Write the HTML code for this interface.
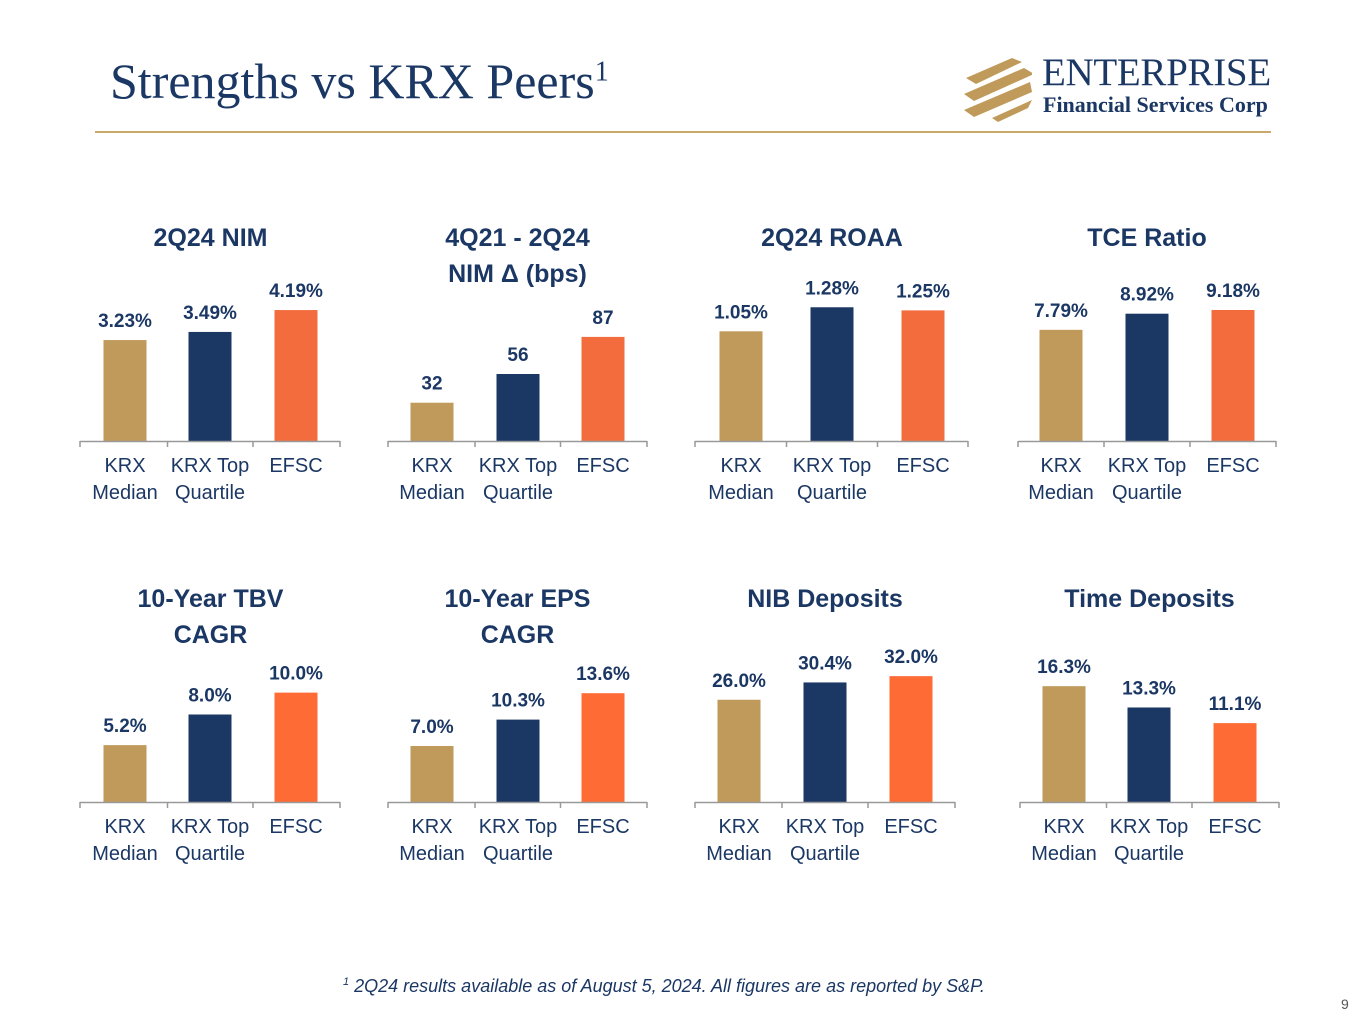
<!DOCTYPE html>
<html><head><meta charset="utf-8"><style>
body{margin:0;background:#fff;}
#root{position:relative;width:1365px;height:1024px;overflow:hidden;font-family:"Liberation Sans",sans-serif;}
</style></head><body>
<div id="root">
<div style="position:absolute;left:110px;top:52px;font-family:'Liberation Serif',serif;font-size:50px;color:#1b3764;">Strengths vs KRX Peers<sup style="font-size:28px;">1</sup></div>
<div style="position:absolute;left:95px;top:131px;width:1176px;height:2px;background:#c8a96a;"></div>
<div style="position:absolute;left:962px;top:56px;width:312px;height:66px;">
<svg width="70" height="66" style="position:absolute;left:0;top:0">
<polygon points="4,22 50,2 60,6 14,28" fill="#c09a5b"/>
<polygon points="2,38 62,12 72,18 12,45" fill="#c09a5b"/>
<polygon points="2,54 68,26 70,36 12,61" fill="#c09a5b"/>
<polygon points="30,62 70,44 66,52 36,66" fill="#c09a5b"/>
</svg>
<div style="position:absolute;left:80px;top:-6px;font-family:'Liberation Serif',serif;font-size:39px;color:#1b3764;letter-spacing:-0.3px;">ENTERPRISE</div>
<div style="position:absolute;left:81px;top:36px;font-family:'Liberation Serif',serif;font-size:22px;font-weight:bold;color:#1b3764;">Financial Services Corp</div>
</div>
<svg id="charts" width="1365" height="1024" style="position:absolute;left:0;top:0"></svg>
<div style="position:absolute;left:343px;top:976px;font-size:18px;font-style:italic;color:#1b3764;"><sup style="font-size:11px;">1</sup> 2Q24 results available as of August 5, 2024. All figures are as reported by S&amp;P.</div>
<div style="position:absolute;left:1341px;top:996px;font-size:14px;color:#555;">9</div>
</div>
<script>
const categories=[["KRX","Median"],["KRX Top","Quartile"],["EFSC",""]];
const titles=[["2Q24 NIM"],["4Q21 - 2Q24","NIM Δ (bps)"],["2Q24 ROAA"],["TCE Ratio"],["10-Year TBV","CAGR"],["10-Year EPS","CAGR"],["NIB Deposits"],["Time Deposits"]];
const values=[[3.23,3.49,4.19],[32,56,87],[1.05,1.28,1.25],[7.79,8.92,9.18],[5.2,8.0,10.0],[7.0,10.3,13.6],[26.0,30.4,32.0],[16.3,13.3,11.1]];
const valueLabels=[["3.23%","3.49%","4.19%"],["32","56","87"],["1.05%","1.28%","1.25%"],["7.79%","8.92%","9.18%"],["5.2%","8.0%","10.0%"],["7.0%","10.3%","13.6%"],["26.0%","30.4%","32.0%"],["16.3%","13.3%","11.1%"]];
const axisMax=[4.48,117,1.34,9.81,12.8,17.5,35.6,19.7];
const layout=[
 {x0:80,x1:340,cx:[125,210,296],base:441,ty:238},
 {x0:388,x1:647,cx:[432,518,603],base:441,ty:238},
 {x0:695,x1:968,cx:[741,832,923],base:441,ty:238},
 {x0:1018,x1:1276,cx:[1061,1147,1233],base:441,ty:238},
 {x0:80,x1:340,cx:[125,210,296],base:802,ty:599},
 {x0:388,x1:647,cx:[432,518,603],base:802,ty:599},
 {x0:695,x1:955,cx:[739,825,911],base:802,ty:599},
 {x0:1020,x1:1279,cx:[1064,1149,1235],base:802,ty:599}];
const colors=[["#c09a5b","#1b3764","#f26c3d"],["#c09a5b","#1b3764","#ff6b35"]];
const NS="http://www.w3.org/2000/svg",svg=document.getElementById('charts');
function mk(t,a,txt){const e=document.createElementNS(NS,t);for(const k in a)e.setAttribute(k,a[k]);if(txt!==undefined)e.textContent=txt;svg.appendChild(e);return e;}
const H=140,BW=43;
values.forEach((vals,i)=>{
 const L=layout[i];const y=v=>L.base-v/axisMax[i]*H;const tcx=(L.cx[0]+L.cx[2])/2;
 titles[i].forEach((t,j)=>{const e=mk('text',{x:tcx,y:L.ty+8+j*36,'text-anchor':'middle','font-size':25,'font-weight':'bold',fill:'#1b3764'},t);
 
 });
 vals.forEach((v,k)=>{
  const r=mk('rect',{x:L.cx[k]-BW/2,y:y(v),width:BW,height:L.base-y(v),fill:colors[i<4?0:1][k]});
  
  
  const t=mk('text',{x:L.cx[k],y:y(v)-13,'text-anchor':'middle','font-size':19,'font-weight':'bold',fill:'#1b3764'},valueLabels[i][k]);
  
  
  categories[k].forEach((c,j)=>{const ct=mk('text',{x:L.cx[k],y:L.base+31+j*27,'text-anchor':'middle','font-size':20,fill:'#1b3764'},c);
  
  });
 });
 const ax=mk('line',{x1:L.x0,x2:L.x1,y1:L.base+0.5,y2:L.base+0.5,stroke:'#999','stroke-width':1.5});
 
 
 [L.x0,(L.cx[0]+L.cx[1])/2,(L.cx[1]+L.cx[2])/2,L.x1].forEach(tx=>{const tk=mk('line',{x1:tx,x2:tx,y1:L.base,y2:L.base+6,stroke:'#999','stroke-width':1.5});
 
 });
});
</script>
</body></html>
